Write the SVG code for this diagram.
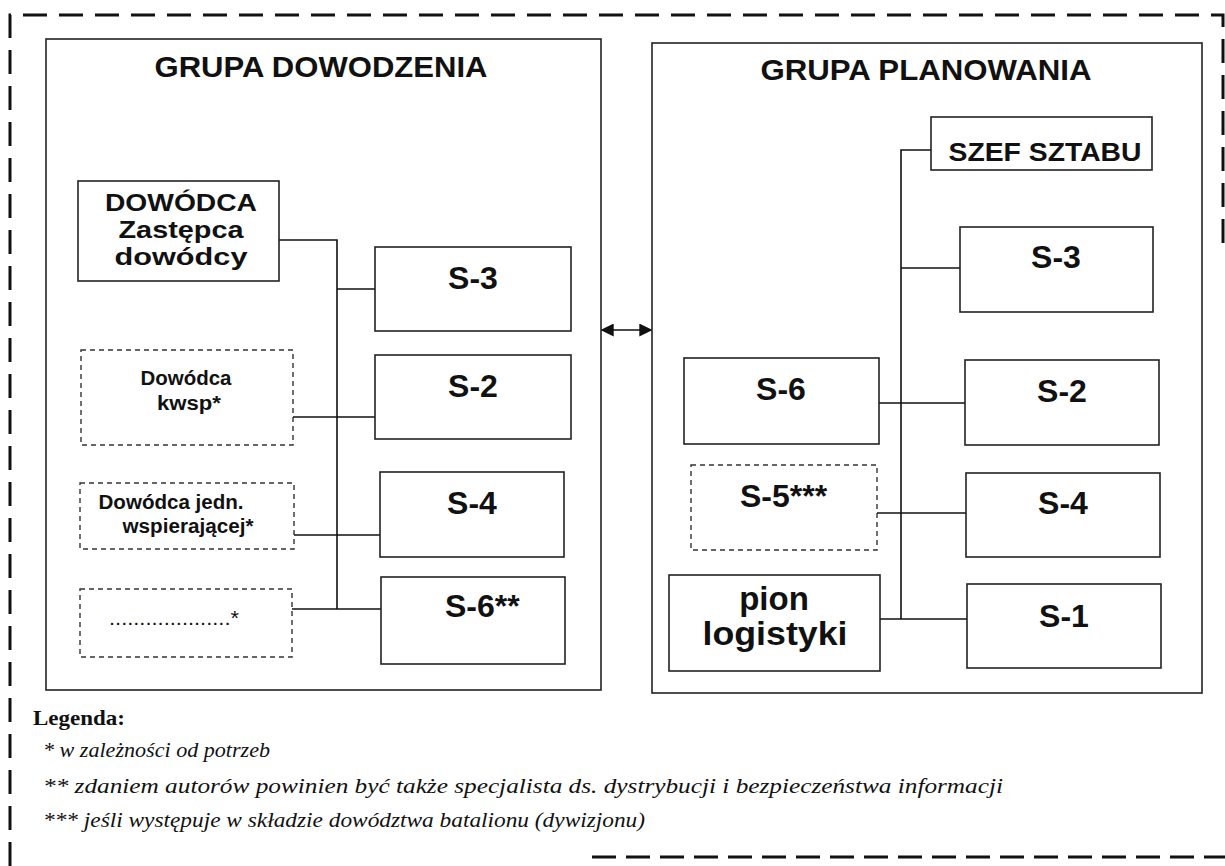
<svg xmlns="http://www.w3.org/2000/svg" width="1225" height="866" viewBox="0 0 1225 866">
<style>
.box{fill:#fff;stroke:#222;stroke-width:1.6}
.dbox{fill:#fff;stroke:#333;stroke-width:1.4;stroke-dasharray:5 4}
.grp{fill:#fff;stroke:#222;stroke-width:1.6}
.t{font-family:"Liberation Sans",Arial,sans-serif;font-weight:bold;fill:#111;text-anchor:middle}
.big{font-size:32px}
.mid{font-size:26px}
.dw{font-size:24px}
.sm{font-size:20px}
.ttl{font-size:30px}
.leg{font-family:"Liberation Serif","Times New Roman",serif;font-style:italic;font-size:22px;fill:#111}
.legh{font-family:"Liberation Serif","Times New Roman",serif;font-weight:bold;font-size:22px;fill:#111}
.con{stroke:#111;stroke-width:1.6;fill:none}
.outer{stroke:#111;stroke-width:3;fill:none;stroke-dasharray:24 12}
</style>
<defs>
<marker id="ah" viewBox="0 0 10 10" refX="9" refY="5" markerWidth="13" markerHeight="13" markerUnits="userSpaceOnUse" orient="auto-start-reverse">
<path d="M0,0 L10,5 L0,10 z" fill="#111"/>
</marker>
</defs>
<rect width="1225" height="866" fill="#fff"/>
<g id="outer-border">
<path class="outer" d="M10,866 V15 H1223 V250"/>
<path class="outer" d="M592,857 H1225" style="stroke-dasharray:24 10"/>
</g>
<g id="grupa-dowodzenia">
<rect class="grp" x="46" y="39" width="555" height="651"/>
<text class="t ttl" x="321" y="77" textLength="333" lengthAdjust="spacingAndGlyphs">GRUPA DOWODZENIA</text>
</g>
<g id="grupa-planowania">
<rect class="grp" x="652" y="43" width="550" height="650"/>
<text class="t ttl" x="926" y="80" textLength="331" lengthAdjust="spacingAndGlyphs">GRUPA PLANOWANIA</text>
</g>
<g id="connectors">
<path class="con" d="M279,240 H337 V609"/>
<path class="con" d="M337,289 H375"/>
<path class="con" d="M293,417 H375"/>
<path class="con" d="M294,535 H380"/>
<path class="con" d="M292,609 H381"/>
<path class="con" d="M931,150 H901 V619"/>
<path class="con" d="M901,268 H960"/>
<path class="con" d="M879,403 H965"/>
<path class="con" d="M877,513 H966"/>
<path class="con" d="M880,619 H967"/>
<path class="con" d="M602,330 H651" marker-start="url(#ah)" marker-end="url(#ah)"/>
</g>
<g id="dowodca">
<rect class="box" x="78" y="181" width="201" height="100"/>
<text class="t dw" x="181" y="211" textLength="152" lengthAdjust="spacingAndGlyphs">DOWÓDCA</text>
<text class="t dw" x="181" y="238" textLength="125" lengthAdjust="spacingAndGlyphs">Zastępca</text>
<text class="t dw" x="181" y="265" textLength="133" lengthAdjust="spacingAndGlyphs">dowódcy</text>
</g>
<g id="l-s3">
<rect class="box" x="375" y="247" width="196" height="84"/>
<text class="t big" x="473" y="289">S-3</text>
</g>
<g id="dowodca-kwsp">
<rect class="dbox" x="81" y="350" width="212" height="95"/>
<text class="t sm" x="186" y="385" textLength="91" lengthAdjust="spacingAndGlyphs">Dowódca</text>
<text class="t sm" x="189" y="410" textLength="64" lengthAdjust="spacingAndGlyphs">kwsp*</text>
</g>
<g id="l-s2">
<rect class="box" x="375" y="355" width="196" height="84"/>
<text class="t big" x="473" y="397">S-2</text>
</g>
<g id="dowodca-jedn">
<rect class="dbox" x="80" y="483" width="214" height="66"/>
<text class="t sm" x="171" y="509" textLength="145" lengthAdjust="spacingAndGlyphs">Dowódca jedn.</text>
<text class="t sm" x="188" y="533" textLength="131" lengthAdjust="spacingAndGlyphs">wspierającej*</text>
</g>
<g id="l-s4">
<rect class="box" x="380" y="472" width="184" height="85"/>
<text class="t big" x="472" y="514">S-4</text>
</g>
<g id="inny">
<rect class="dbox" x="80" y="589" width="212" height="68"/>
<text class="t sm" x="174" y="625" textLength="130" lengthAdjust="spacingAndGlyphs" style="font-weight:normal">....................*</text>
</g>
<g id="l-s6">
<rect class="box" x="381" y="577" width="184" height="87"/>
<text class="t big" x="445" y="617" style="text-anchor:start">S-6**</text>
</g>
<g id="szef-sztabu">
<rect class="box" x="931" y="117" width="221" height="53"/>
<text class="t mid" x="1045" y="161" textLength="193" lengthAdjust="spacingAndGlyphs">SZEF SZTABU</text>
</g>
<g id="r-s3">
<rect class="box" x="960" y="227" width="193" height="85"/>
<text class="t big" x="1056" y="268">S-3</text>
</g>
<g id="r-s6">
<rect class="box" x="684" y="358" width="195" height="86"/>
<text class="t big" x="781" y="400">S-6</text>
</g>
<g id="r-s2">
<rect class="box" x="965" y="360" width="194" height="85"/>
<text class="t big" x="1062" y="402">S-2</text>
</g>
<g id="r-s5">
<rect class="dbox" x="691" y="465" width="186" height="85"/>
<text class="t big" x="740" y="507" style="text-anchor:start">S-5***</text>
</g>
<g id="r-s4">
<rect class="box" x="966" y="473" width="194" height="84"/>
<text class="t big" x="1063" y="514">S-4</text>
</g>
<g id="pion-logistyki">
<rect class="box" x="669" y="575" width="211" height="96"/>
<text class="t big" x="774" y="610" style="font-size:33px">pion</text>
<text class="t big" x="775" y="645" style="font-size:33px" textLength="145" lengthAdjust="spacingAndGlyphs">logistyki</text>
</g>
<g id="r-s1">
<rect class="box" x="967" y="584" width="194" height="84"/>
<text class="t big" x="1064" y="627">S-1</text>
</g>
<g id="legenda">
<text class="legh" x="33" y="725" textLength="92" lengthAdjust="spacingAndGlyphs">Legenda:</text>
<text class="leg" x="43" y="757" textLength="227" lengthAdjust="spacingAndGlyphs">* w zależności od potrzeb</text>
<text class="leg" x="43" y="793" textLength="960" lengthAdjust="spacingAndGlyphs">** zdaniem autorów powinien być także specjalista ds. dystrybucji i bezpieczeństwa informacji</text>
<text class="leg" x="43" y="827" textLength="602" lengthAdjust="spacingAndGlyphs">*** jeśli występuje w składzie dowództwa batalionu (dywizjonu)</text>
</g>
</svg>
